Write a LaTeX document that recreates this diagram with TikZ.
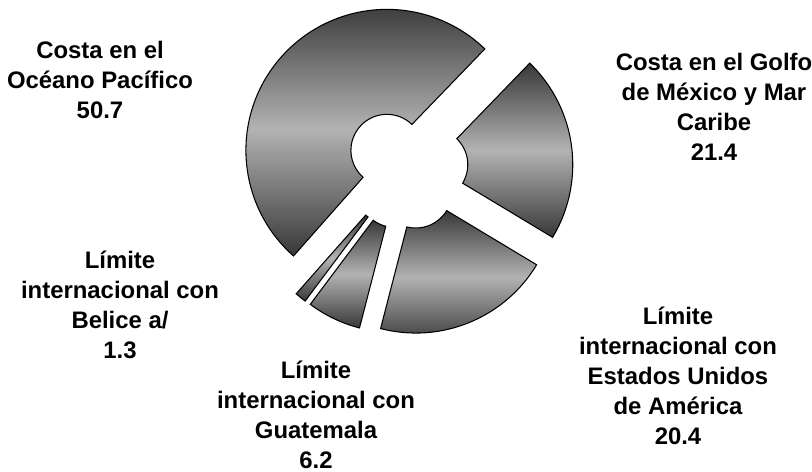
\documentclass[tikz,border=0pt]{standalone}
\usepackage{fontspec}
\setmainfont{Liberation Sans}
\usetikzlibrary{calc,shadings}
\tikzset{
    sector/.style={draw=black, line width=0.6pt, top color=black!78, bottom color=black!78, middle color=black!30},
    rotulo/.style={align=center, font=\bfseries\fontsize{13.6}{17}\selectfont},
  }

\begin{document}
\begin{tikzpicture}[x=0.02cm,y=0.02cm]
				  %centro O, separacion 26, radios 36 y 141
				  \useasboundingbox (0,0) rectangle (812,472);
				  \coordinate (O) at (406,304);
				  \coordinate (Cpac) at ($(O)+(137.26:26)$);
				  \coordinate (Cbel) at ($(O)+(230.86:26)$);
				  \coordinate (Cgua) at ($(O)+(244.36:26)$);
				  \coordinate (Ceua) at ($(O)+(292.24:26)$);
				  \coordinate (Cgol) at ($(O)+(7.48:26)$);
				  \draw[sector] ($(Cpac)+(46:36)$) arc[start angle=46, end angle=228.52, radius=36] -- ($(Cpac)+(228.52:141)$) arc[start angle=228.52, end angle=46, radius=141] -- cycle;
				  \draw[sector] ($(Cbel)+(228.52:36)$) arc[start angle=228.52, end angle=233.2, radius=36] -- ($(Cbel)+(233.2:141)$) arc[start angle=233.2, end angle=228.52, radius=141] -- cycle;
				  \draw[sector] ($(Cgua)+(233.2:36)$) arc[start angle=233.2, end angle=255.52, radius=36] -- ($(Cgua)+(255.52:141)$) arc[start angle=255.52, end angle=233.2, radius=141] -- cycle;
				  \draw[sector] ($(Ceua)+(255.52:36)$) arc[start angle=255.52, end angle=328.96, radius=36] -- ($(Ceua)+(328.96:141)$) arc[start angle=328.96, end angle=255.52, radius=141] -- cycle;
				  \draw[sector] ($(Cgol)+(-31.04:36)$) arc[start angle=-31.04, end angle=46, radius=36] -- ($(Cgol)+(46:141)$) arc[start angle=46, end angle=-31.04, radius=141] -- cycle;
				  \node[rotulo] (pacifico) at (100,392) {Costa en el\\Océano Pacífico\\50.7};
				  \node[rotulo] (golfo) at (714,365) {Costa en el Golfo\\de México y Mar\\Caribe\\21.4};
				  \node[rotulo] (belice) at (120,167) {Límite\\internacional con\\Belice a/\\1.3};
				  \node[rotulo] (guatemala) at (316,57) {Límite\\internacional con\\Guatemala\\6.2};
				  \node[rotulo] (eua) at (678,96) {Límite\\internacional con\\Estados Unidos\\de América\\20.4};
				  \end{tikzpicture}
\end{document}
